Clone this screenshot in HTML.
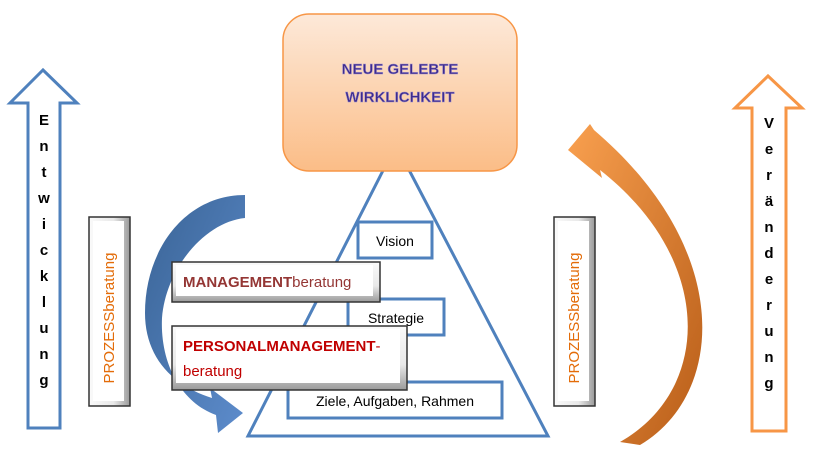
<!DOCTYPE html>
<html><head><meta charset="utf-8"><style>
body{margin:0;background:#fff;}
svg{display:block;font-family:"Liberation Sans",sans-serif;}
</style></head><body>
<svg width="817" height="465" viewBox="0 0 817 465" xmlns="http://www.w3.org/2000/svg">
<defs>
<linearGradient id="og" x1="0" y1="0" x2="0" y2="1"><stop offset="0" stop-color="#fde9d9"/><stop offset="1" stop-color="#fbbd87"/></linearGradient>
<linearGradient id="bg" x1="0" y1="0" x2="1" y2="1"><stop offset="0" stop-color="#3a6496"/><stop offset="1" stop-color="#5d8ccc"/></linearGradient>
<linearGradient id="org" x1="0" y1="0" x2="1" y2="1"><stop offset="0" stop-color="#f9a04f"/><stop offset="1" stop-color="#b85d18"/></linearGradient>
<linearGradient id="gv" x1="0" y1="0" x2="0" y2="1"><stop offset="0" stop-color="#fafafa"/><stop offset="0.6" stop-color="#e9e9e9"/><stop offset="1" stop-color="#9a9a9a"/></linearGradient>
<linearGradient id="gh" x1="0" y1="0" x2="1" y2="0"><stop offset="0" stop-color="#fafafa"/><stop offset="0.6" stop-color="#e9e9e9"/><stop offset="1" stop-color="#9a9a9a"/></linearGradient>
</defs>
<polygon points="43,70 77,103 60,103 60,428 28,428 28,103 10,103" fill="#fff" stroke="#4f81bd" stroke-width="3"/>
<g font-weight="bold" font-size="15" text-anchor="middle" fill="#000">
<text x="44" y="125">E</text><text x="44" y="151">n</text><text x="44" y="177">t</text><text x="44" y="203">w</text><text x="44" y="229">i</text><text x="44" y="255">c</text><text x="44" y="281">k</text><text x="44" y="307">l</text><text x="44" y="333">u</text><text x="44" y="359">n</text><text x="44" y="385">g</text>
</g>
<polygon points="768,76 802,108 786,108 786,431 752,431 752,108 735,108" fill="#fff" stroke="#f79646" stroke-width="3"/>
<g font-weight="bold" font-size="15" text-anchor="middle" fill="#000">
<text x="769" y="128">V</text><text x="769" y="154">e</text><text x="769" y="180">r</text><text x="769" y="206">ä</text><text x="769" y="232">n</text><text x="769" y="258">d</text><text x="769" y="284">e</text><text x="769" y="310">r</text><text x="769" y="336">u</text><text x="769" y="362">n</text><text x="769" y="388">g</text>
</g>
<polygon points="396,145 548,436 248,436" fill="#fff" stroke="#4f81bd" stroke-width="3"/>
<path d="M245,195 C185,195 145,250 145,313 C145,355 170,385 212,398 L210,388 L243,413 L218,433 L216,415 C180,402 160,362 162,318 C166,268 205,222 245,218 Z" fill="url(#bg)"/>
<rect x="358" y="222" width="74" height="36" fill="#fff" stroke="#4f81bd" stroke-width="3"/>
<text x="395" y="246" font-size="14" text-anchor="middle">Vision</text>
<rect x="348" y="299" width="96" height="36" fill="#fff" stroke="#4f81bd" stroke-width="3"/>
<text x="396" y="323" font-size="14" text-anchor="middle">Strategie</text>
<rect x="288" y="382" width="214" height="36" fill="#fff" stroke="#4f81bd" stroke-width="3"/>
<text x="395" y="406" font-size="14" text-anchor="middle">Ziele, Aufgaben, Rahmen</text>
<rect x="172" y="262" width="208" height="40" fill="url(#gv)" stroke="#333" stroke-width="1.5"/>
<rect x="176" y="265" width="197" height="31" fill="#fff"/>
<text x="183" y="287" font-size="15" fill="#943634"><tspan font-weight="bold">MANAGEMENT</tspan>beratung</text>
<rect x="172" y="326" width="235" height="64" fill="url(#gv)" stroke="#333" stroke-width="1.5"/>
<rect x="176" y="329" width="224" height="54" fill="#fff"/>
<text x="183" y="351" font-size="15" fill="#c00000" font-weight="bold">PERSONALMANAGEMENT<tspan font-weight="normal">-</tspan></text>
<text x="183" y="376" font-size="15" fill="#c00000">beratung</text>
<path d="M640,445 C725,395 735,250 594,130 L590,124 L568,150 L602,178 L600,170 C715,260 712,390 620,442 Z" fill="url(#org)"/>
<rect x="283" y="14" width="234" height="157" rx="26" fill="url(#og)" stroke="#f79646" stroke-width="1.5"/>
<g font-weight="bold" font-size="15" text-anchor="middle" fill="#3f2b8c" stroke="#9a8fd0" stroke-width="0.5">
<text x="400" y="74">NEUE GELEBTE</text>
<text x="400" y="102">WIRKLICHKEIT</text>
</g>
<rect x="89" y="217" width="41" height="189" fill="url(#gh)" stroke="#333" stroke-width="1.5"/>
<rect x="93" y="221" width="31" height="180" fill="#fff"/>
<text transform="translate(114,318) rotate(-90)" font-size="15" fill="#e36c09" text-anchor="middle">PROZESSberatung</text>
<rect x="554" y="217" width="41" height="189" fill="url(#gh)" stroke="#333" stroke-width="1.5"/>
<rect x="558" y="221" width="31" height="180" fill="#fff"/>
<text transform="translate(579,318) rotate(-90)" font-size="15" fill="#e36c09" text-anchor="middle">PROZESSberatung</text>
</svg>
</body></html>
